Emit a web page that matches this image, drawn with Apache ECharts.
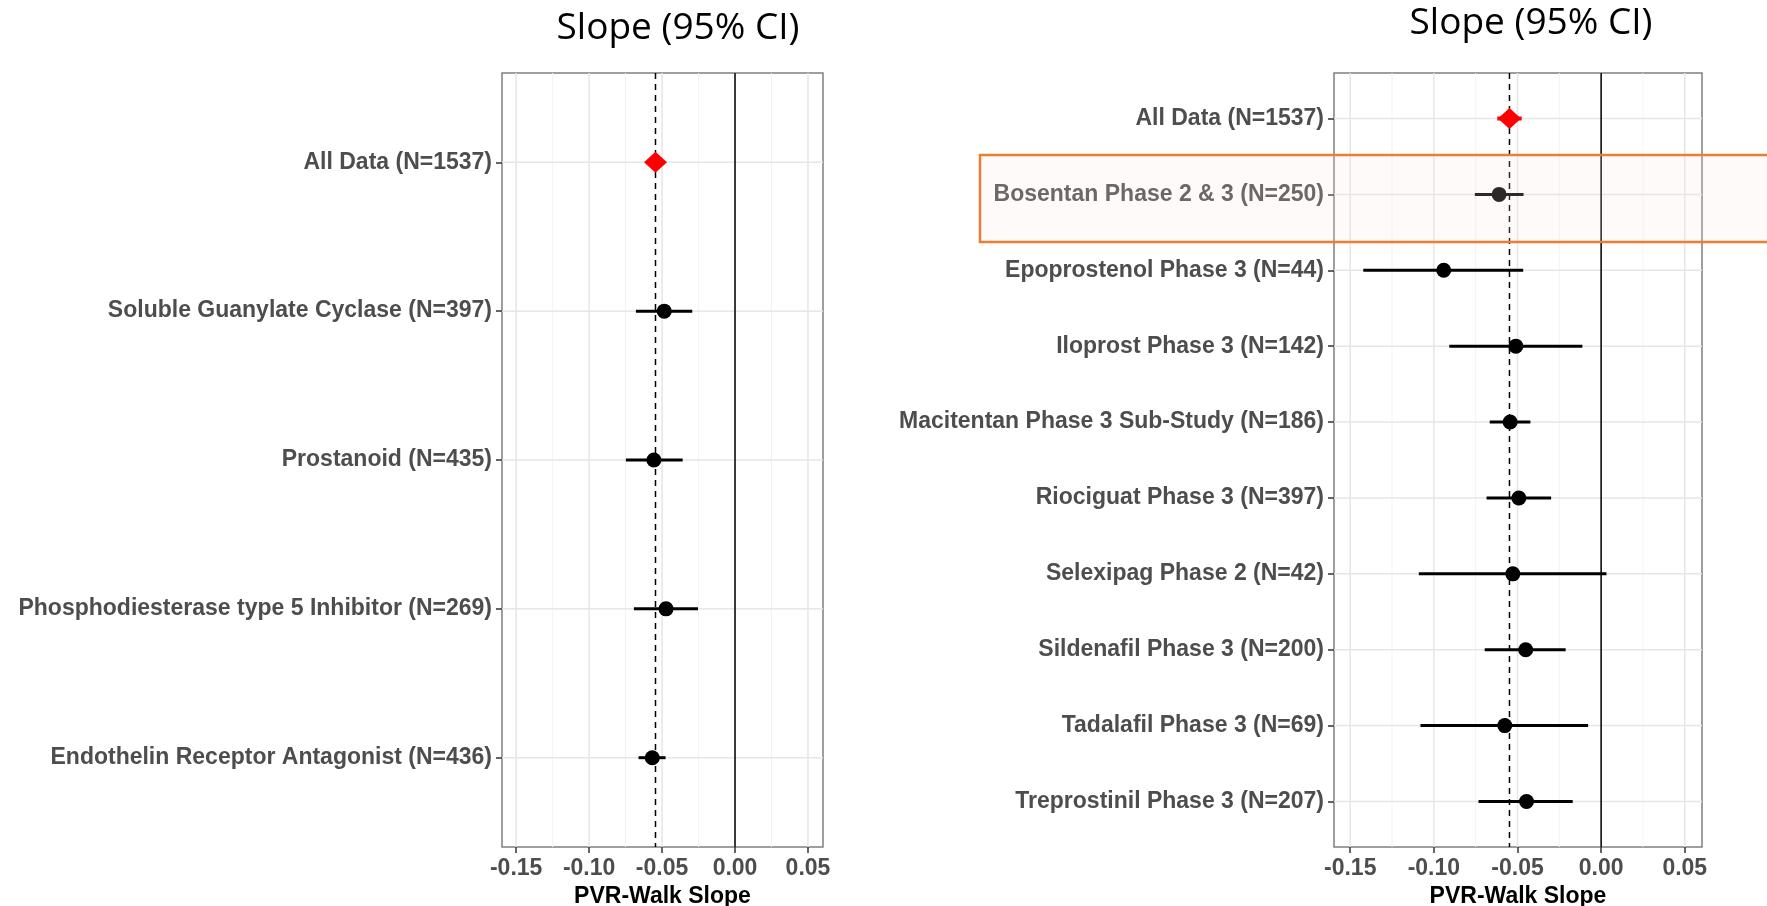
<!DOCTYPE html>
<html><head><meta charset="utf-8">
<script src="https://cdn.jsdelivr.net/npm/echarts@6/dist/echarts.min.js"></script>
<style>html,body{margin:0;padding:0;background:#fff}#c{width:1767px;height:906px}</style>
</head><body><div id="c"></div>
<script>
// ---- data ----
const xTicks = [-0.15, -0.10, -0.05, 0.00, 0.05];
const xTitle = 'PVR-Walk Slope';
const panelTitle = 'Slope (95% CI)';

const leftLabels = ['All Data (N=1537)', 'Soluble Guanylate Cyclase (N=397)', 'Prostanoid (N=435)',
  'Phosphodiesterase type 5 Inhibitor (N=269)', 'Endothelin Receptor Antagonist (N=436)'];
const leftEst = [-0.0545, -0.0485, -0.0556, -0.0473, -0.0567];
const leftLo  = [null, -0.0679, -0.0748, -0.0693, -0.0661];
const leftHi  = [null, -0.0293, -0.0359, -0.0254, -0.0476];

const rightLabels = ['All Data (N=1537)', 'Bosentan Phase 2 & 3 (N=250)', 'Epoprostenol Phase 3 (N=44)',
  'Iloprost Phase 3 (N=142)', 'Macitentan Phase 3 Sub-Study (N=186)', 'Riociguat Phase 3 (N=397)',
  'Selexipag Phase 2 (N=42)', 'Sildenafil Phase 3 (N=200)', 'Tadalafil Phase 3 (N=69)', 'Treprostinil Phase 3 (N=207)'];
const rightEst = [-0.0548, -0.0610, -0.0941, -0.0510, -0.0544, -0.0492, -0.0528, -0.0451, -0.0576, -0.0446];
const rightLo  = [-0.0621, -0.0755, -0.1422, -0.0908, -0.0666, -0.0685, -0.1090, -0.0696, -0.1080, -0.0733];
const rightHi  = [-0.0475, -0.0464, -0.0466, -0.0112, -0.0423, -0.0299, 0.0032, -0.0212, -0.0078, -0.0170];

// ---- chart ----
const chart = echarts.init(document.getElementById('c'));
const X_MIN = -0.1597, X_MAX = 0.0603;
const minorTicks = xTicks.slice(0, -1).map((v, i) => (v + xTicks[i + 1]) / 2);

const grids = [
  { left: 502, top: 73, width: 321, height: 774 },
  { left: 1334, top: 73, width: 368, height: 774 }
];

function vLine(color, width, dash) {
  return function (params, api) {
    const cs = params.coordSys;
    const p = api.coord([api.value(0), 0]);
    return { type: 'line', shape: { x1: p[0], y1: cs.y, x2: p[0], y2: cs.y + cs.height },
      style: { stroke: color, lineWidth: width, lineDash: dash || null } };
  };
}
function hLine(color, width) {
  return function (params, api) {
    const cs = params.coordSys;
    const p = api.coord([0, api.value(1)]);
    return { type: 'line', shape: { x1: cs.x, y1: p[1], x2: cs.x + cs.width, y2: p[1] },
      style: { stroke: color, lineWidth: width } };
  };
}

const xAxes = [], yAxes = [], series = [];
[[leftLabels, leftEst, leftLo, leftHi], [rightLabels, rightEst, rightLo, rightHi]].forEach((pd, gi) => {
  const [labels, est, lo, hi] = pd;
  const n = labels.length;
  const idx = labels.map((_, i) => i);
  xAxes.push({
    type: 'value', gridIndex: gi, min: X_MIN, max: X_MAX, position: 'bottom',
    name: xTitle, nameLocation: 'middle', nameGap: 35,
    nameTextStyle: { fontFamily: 'Liberation Sans', fontWeight: 'bold', fontSize: 23, color: '#000' },
    axisLine: { show: false, onZero: false },
    axisTick: { show: true, customValues: xTicks, length: 6, lineStyle: { color: '#333', width: 1.5 } },
    axisLabel: { customValues: xTicks, formatter: v => v.toFixed(2), margin: 10,
      fontFamily: 'Liberation Sans', fontWeight: 'bold', fontSize: 23, color: '#4d4d4d' },
    splitLine: { show: false }
  });
  yAxes.push({
    type: 'value', gridIndex: gi, min: -0.6, max: n - 0.4, inverse: true, position: 'left',
    axisLine: { show: false, onZero: false },
    axisTick: { show: true, customValues: idx, length: 6, lineStyle: { color: '#333', width: 1.5 } },
    axisLabel: { customValues: idx, formatter: v => labels[Math.round(v)], margin: 10,
      fontFamily: 'Liberation Sans', fontWeight: 'bold', fontSize: 23, color: '#4d4d4d' },
    splitLine: { show: false }
  });
  const ax = { xAxisIndex: gi, yAxisIndex: gi };
  series.push(Object.assign({ type: 'custom', z: 1, silent: true, renderItem: vLine('#f3f3f3', 1),
    data: minorTicks.map(v => [v, 0]) }, ax));
  series.push(Object.assign({ type: 'custom', z: 1, silent: true, renderItem: vLine('#e6e6e6', 1.5),
    data: xTicks.map(v => [v, 0]) }, ax));
  series.push(Object.assign({ type: 'custom', z: 1, silent: true, renderItem: hLine('#e6e6e6', 1.5),
    data: idx.map(i => [0, i]) }, ax));
  series.push(Object.assign({ type: 'custom', z: 2, silent: true, renderItem: vLine('#000', 1.5),
    data: [[0, 0]] }, ax));
  series.push(Object.assign({ type: 'custom', z: 2, silent: true, renderItem: vLine('#000', 1.5, [6, 5]),
    data: [[est[0], 0]] }, ax));
  // error bars
  const eb = [];
  idx.forEach(i => { if (lo[i] != null) eb.push([lo[i], hi[i], i]); });
  series.push(Object.assign({ type: 'custom', z: 3, silent: true,
    encode: { x: [0, 1], y: 2 },
    renderItem: function (params, api) {
      const a = api.coord([api.value(0), api.value(2)]);
      const b = api.coord([api.value(1), api.value(2)]);
      const isAll = api.value(2) === 0;
      return { type: 'line', shape: { x1: a[0], y1: a[1], x2: b[0], y2: b[1] },
        style: { stroke: isAll ? '#ff0000' : '#000', lineWidth: isAll ? 4 : 3 } };
    }, data: eb }, ax));
  // points
  series.push(Object.assign({ type: 'scatter', z: 4, silent: true, symbol: 'circle', symbolSize: 15,
    itemStyle: { color: '#000', opacity: 1 },
    data: idx.slice(1).map(i => [est[i], i]) }, ax));
  series.push(Object.assign({ type: 'scatter', z: 5, silent: true, symbol: 'diamond', symbolSize: [23, 21],
    itemStyle: { color: '#ff0000', opacity: 1 },
    data: [[est[0], 0]] }, ax));
});

chart.setOption({
  animation: false,
  backgroundColor: '#fff',
  grid: grids.map(g => Object.assign({ show: true, borderColor: '#7f7f7f', borderWidth: 1.5,
    backgroundColor: 'transparent', containLabel: false, outerBoundsMode: 'none' }, g)),
  xAxis: xAxes,
  yAxis: yAxes,
  series: series,
  graphic: [
    { type: 'text', x: 678, y: 28, z: 10, style: { text: panelTitle, fontFamily: 'Open Sans', fontSize: 37, fill: '#000', align: 'center', verticalAlign: 'middle' } },
    { type: 'text', x: 1531, y: 23, z: 10, style: { text: panelTitle, fontFamily: 'Open Sans', fontSize: 37, fill: '#000', align: 'center', verticalAlign: 'middle' } },
    { type: 'rect', z: 100, silent: true, shape: { x: 980, y: 155, width: 820, height: 87 },
      style: { fill: 'rgba(245,225,220,0.18)', stroke: '#ED7D31', lineWidth: 2.5 } }
  ]
});
</script>
</body></html>
